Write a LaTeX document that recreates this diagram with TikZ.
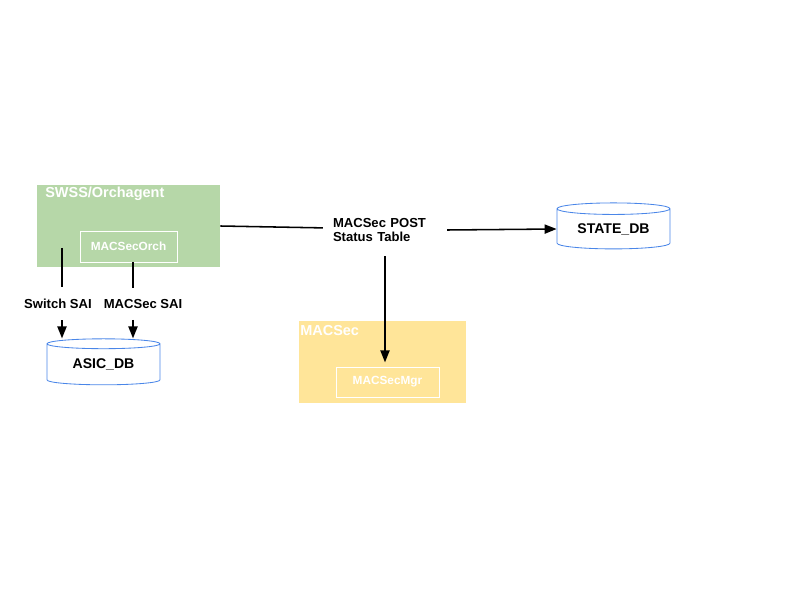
\documentclass[tikz,border=0pt]{standalone}
\usepackage{fontspec}
\setmainfont{Liberation Sans}
\usetikzlibrary{shapes.geometric,arrows.meta,positioning}
\definecolor{orchgreen}{HTML}{B6D7A8}
\definecolor{mgryellow}{HTML}{FFE599}
\definecolor{dbblue}{HTML}{4A86E8}

\begin{document}
\begin{tikzpicture}[font=\bfseries\fontsize{9.3}{10.6}\selectfont,
    group/.style={fill=#1,inner sep=0pt,minimum height=2.05cm},
    inner/.style={draw=white,line width=.6pt,text=white,inner sep=0pt,
      font=\bfseries\fontsize{8.4}{10}\selectfont},
    title/.style={anchor=base west,text=white,inner sep=0pt,
      font=\bfseries\fontsize{10.3}{12}\selectfont},
    db/.style={cylinder,shape border rotate=90,draw=dbblue,line width=.6pt,
      aspect=.16,minimum width=2.825cm,minimum height=1.15cm,inner sep=0pt,
      font=\bfseries\fontsize{10}{12}\selectfont},
    sai/.style={inner sep=8pt},
    link/.style={line width=1.1pt},
    tip/.style={link,-{Triangle[length=8.5pt,width=6.5pt]}}]
    \useasboundingbox (0,0) rectangle (20,15);

    % SWSS
    \node[group=orchgreen,minimum width=4.575cm] (orch) at (3.2125,9.35) {};
    \node[inner,minimum width=2.425cm,minimum height=.775cm] (orchin) at (3.2125,8.8375) {MACSecOrch};
    \node[title] (orchtitle) at (1.125,10.05) {SWSS/Orchagent};

    % MACSec
    \node[group=mgryellow,minimum width=4.175cm] (mac) at (9.5625,5.95) {};
    \node[inner,minimum width=2.575cm,minimum height=.75cm] (mgr) at (9.6875,5.45) {MACSecMgr};
    \node[title] (mactitle) at (7.5,6.625) {MACSec};

    % databases
    \node[db] (state) at (15.3375,9.275) {STATE\_DB};
    \node[db] (asic) at (2.5875,5.8875) {ASIC\_DB};

    \node[align=left,text width=2.6cm,inner xsep=7pt,inner ysep=10pt] (post) at (9.625,9.25) {MACSec POST\\Status Table};
    \node[sai] (swsai) at (1.4475,7.405) {Switch SAI};
    \node[sai] (msai) at (3.575,7.405) {MACSec SAI};

    \coordinate (swtop) at (1.55,8.8);
    \coordinate (mtop) at (3.325,8.45);

    \draw[link] (orch.east) -- ([yshift=1.5pt]post.west);
    \draw[tip] (post.east) -- (state.west);
    \draw[tip,shorten >=3pt] (post.south) -- (post.south |- mgr.north);

    \draw[link] (swtop) -- (swtop |- swsai.north);
    \draw[tip] (swtop |- swsai.south) -- (swtop |- asic.north);
    \draw[link] (mtop) -- (mtop |- msai.north);
    \draw[tip] (mtop |- msai.south) -- (mtop |- asic.north);
\end{tikzpicture}
\end{document}
